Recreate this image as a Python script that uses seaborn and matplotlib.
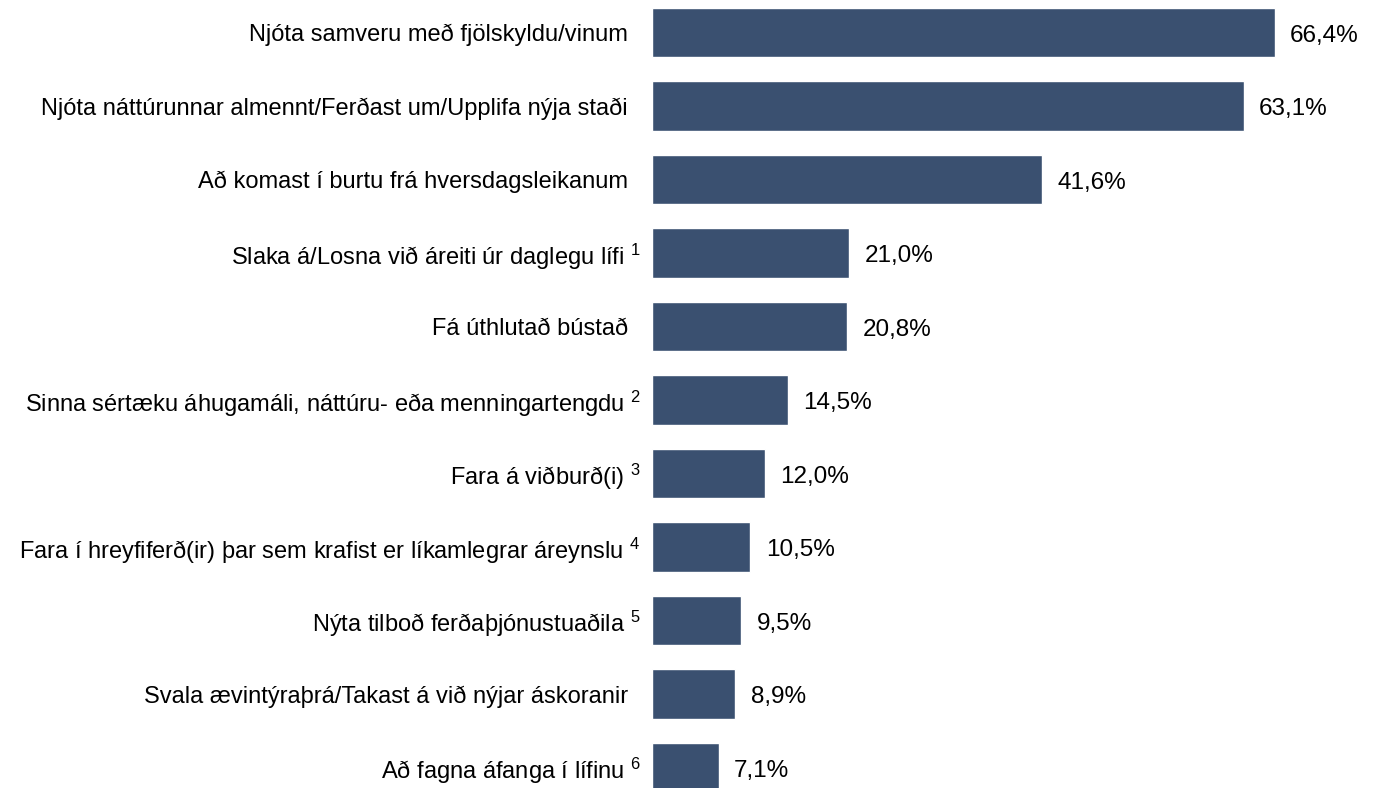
import matplotlib
matplotlib.use("Agg")
import matplotlib.pyplot as plt
import seaborn as sns

# Data
categories = [
    "Njóta samveru með fjölskyldu/vinum",
    "Njóta náttúrunnar almennt/Ferðast um/Upplifa nýja staði",
    "Að komast í burtu frá hversdagsleikanum",
    "Slaka á/Losna við áreiti úr daglegu lífi",
    "Fá úthlutað bústað",
    "Sinna sértæku áhugamáli, náttúru- eða menningartengdu",
    "Fara á viðburð(i)",
    "Fara í hreyfiferð(ir) þar sem krafist er líkamlegrar áreynslu",
    "Nýta tilboð ferðaþjónustuaðila",
    "Svala ævintýraþrá/Takast á við nýjar áskoranir",
    "Að fagna áfanga í lífinu",
]
footnotes = ["", "", "", "1", "", "2", "3", "4", "5", "", "6"]
values = [66.4, 63.1, 41.6, 21.0, 20.8, 14.5, 12.0, 10.5, 9.5, 8.9, 7.1]

bar_color = "#3a5070"

sns.set_theme(style="white")
plt.rcParams["font.family"] = ["Liberation Sans", "DejaVu Sans"]
plt.rcParams["mathtext.fontset"] = "custom"
plt.rcParams["mathtext.rm"] = "Liberation Sans"
plt.rcParams["mathtext.it"] = "Liberation Sans:italic"
plt.rcParams["mathtext.bf"] = "Liberation Sans:bold"

fig = plt.figure(figsize=(13.79, 7.88), dpi=100)
ax = fig.add_axes([652 / 1379, 0, 727 / 1379, 1])

sns.barplot(x=values, y=categories, orient="h", color=bar_color,
            width=0.667, saturation=1, ax=ax)

# axis limits chosen so bar pixels line up with the reference
ax.set_xlim(0, 727 / 9.38)
ax.set_ylim((788 - 32.5) / 73.5, -32.5 / 73.5)

labels = []
for cat, fn in zip(categories, footnotes):
    if fn:
        labels.append(cat + " $^{" + fn + "}$")
    else:
        labels.append(cat + "  ")
ax.set_yticks(range(len(categories)))
ax.set_yticklabels(labels, fontsize=17, color="black")
ax.tick_params(axis="y", length=0, pad=8)
for t in ax.get_yticklabels():
    t.set_y(t.get_position()[1])
ax.set_xticks([])
ax.set_xlabel("")
ax.set_ylabel("")
for s in ax.spines.values():
    s.set_visible(False)

anns = ax.bar_label(ax.containers[0],
                    labels=[f"{v:.1f}%".replace(".", ",") for v in values],
                    padding=11, fontsize=17.5, color="black")
for a in anns:
    a.xyann = (11, -2.5)

fig.savefig("out.png", dpi=100)
